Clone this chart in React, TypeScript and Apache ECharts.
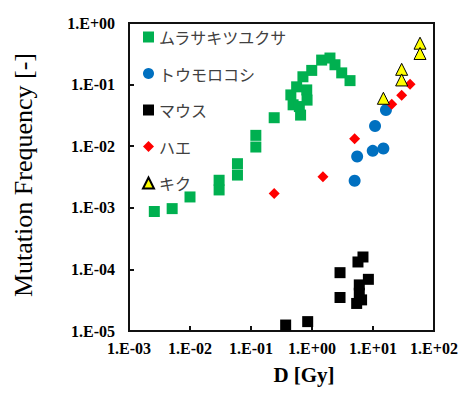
import React, { useEffect, useRef } from "react";
import * as echarts from "echarts";

const seriesNames = ["ムラサキツユクサ", "トウモロコシ", "マウス", "ハエ", "キク"];

const tradescantiaX = [0.0026, 0.0051, 0.010, 0.030, 0.030, 0.060, 0.060, 0.12, 0.12, 0.24, 0.45, 0.49, 0.56, 0.62, 0.65, 0.71, 0.82, 0.83, 0.99, 1.44, 1.97, 2.38, 3.07, 4.2];
const tradescantiaY = [0.00087, 0.00097, 0.0015, 0.0028, 0.00195, 0.0052, 0.0034, 0.015, 0.0097, 0.029, 0.068, 0.047, 0.092, 0.044, 0.032, 0.134, 0.082, 0.056, 0.17, 0.25, 0.27, 0.21, 0.155, 0.116];

const cornX = [16.3, 10.8, 5.5, 9.9, 14.8, 5.0];
const cornY = [0.0387, 0.0213, 0.0068, 0.0084, 0.0092, 0.00275];

const mouseX = [0.37, 0.85, 2.88, 2.88, 5.67, 6.85, 8.4, 5.96, 5.96, 5.4, 6.5];
const mouseY = [1.25e-5, 1.42e-5, 8.85e-5, 3.5e-5, 1.32e-4, 1.59e-4, 6.9e-5, 5.6e-5, 4.1e-5, 2.8e-5, 3.2e-5];

const flyX = [0.24, 1.51, 5.0, 20.3, 29.5, 40.5];
const flyY = [0.0017, 0.0032, 0.0132, 0.048, 0.067, 0.101];

const chrysX = [14.8, 29.5, 29.5, 59, 59];
const chrysY = [0.06, 0.177, 0.119, 0.47, 0.32];

const zip = (xs: number[], ys: number[]) => xs.map((x, i) => [x, ys[i]]);

const expLabel = (v: number) => {
  const e = Math.round(Math.log10(v));
  const s = e < 0 ? "-" : "+";
  return `1.E${s}${String(Math.abs(e)).padStart(2, "0")}`;
};

const frameColor = "#111111";

export default function App() {
  const ref = useRef<HTMLDivElement>(null);
  useEffect(() => {
    document.body.style.margin = "0";
    if (!ref.current) return;
    const chart = echarts.init(ref.current, undefined, { renderer: "svg" });
    const serif = "'Liberation Serif', 'Times New Roman', serif";
    const axisCommon = {
      type: "log" as const,
      logBase: 10,
      axisLine: { show: true, onZero: false, lineStyle: { color: frameColor, width: 2 } },
      axisTick: { show: true, inside: true, length: 5, lineStyle: { color: frameColor, width: 2 } },
      minorTick: { show: false },
      splitLine: { show: false },
      axisLabel: {
        formatter: expLabel,
        fontFamily: serif,
        fontWeight: "bold" as const,
        fontSize: 16,
        color: "#000",
      },
    };
    chart.setOption({
      animation: false,
      grid: {
        left: 129,
        top: 23,
        right: 28,
        bottom: 63,
        show: true,
        borderColor: frameColor,
        borderWidth: 2,
      },
      xAxis: {
        ...axisCommon,
        min: 0.001,
        max: 100,
        axisLabel: { ...axisCommon.axisLabel, margin: 9 },
      },
      yAxis: {
        ...axisCommon,
        min: 0.00001,
        max: 1,
        axisLabel: { ...axisCommon.axisLabel, margin: 14 },
      },
      legend: {
        orient: "vertical",
        left: 137,
        top: 24,
        itemWidth: 11,
        itemHeight: 11,
        itemGap: 20.5,
        textStyle: {
          fontFamily: "'Noto Sans CJK JP', sans-serif",
          fontSize: 16,
          lineHeight: 16,
          color: "#404040",
        },
        data: seriesNames,
      },
      graphic: [
        {
          type: "text",
          x: 23,
          y: 175,
          rotation: Math.PI / 2,
          style: {
            text: "Mutation Frequency [-]",
            fontFamily: serif,
            fontSize: 26,
            fill: "#000",
            align: "center",
            verticalAlign: "middle",
          },
        },
        {
          type: "text",
          x: 304,
          y: 375,
          style: {
            text: "D [Gy]",
            fontFamily: serif,
            fontWeight: "bold",
            fontSize: 21,
            fill: "#000",
            align: "center",
            verticalAlign: "middle",
          },
        },
      ],
      series: [
        {
          name: seriesNames[0],
          type: "scatter",
          symbol: "rect",
          symbolSize: 11,
          itemStyle: { color: "#00B050", opacity: 1 },
          data: zip(tradescantiaX, tradescantiaY),
        },
        {
          name: seriesNames[1],
          type: "scatter",
          symbol: "circle",
          symbolSize: 12,
          itemStyle: { color: "#0070C0", opacity: 1 },
          data: zip(cornX, cornY),
        },
        {
          name: seriesNames[2],
          type: "scatter",
          symbol: "rect",
          symbolSize: 11,
          itemStyle: { color: "#000000", opacity: 1 },
          data: zip(mouseX, mouseY),
        },
        {
          name: seriesNames[3],
          type: "scatter",
          symbol: "diamond",
          symbolSize: 11,
          itemStyle: { color: "#FF0000", opacity: 1 },
          data: zip(flyX, flyY),
        },
        {
          name: seriesNames[4],
          type: "scatter",
          symbol: "triangle",
          symbolSize: 12,
          itemStyle: { color: "#FFFF00", borderColor: "#000", borderWidth: 1, opacity: 1 },
          data: zip(chrysX, chrysY),
        },
      ],
    });
    return () => chart.dispose();
  }, []);
  return <div ref={ref} style={{ width: 462, height: 394 }} />;
}
